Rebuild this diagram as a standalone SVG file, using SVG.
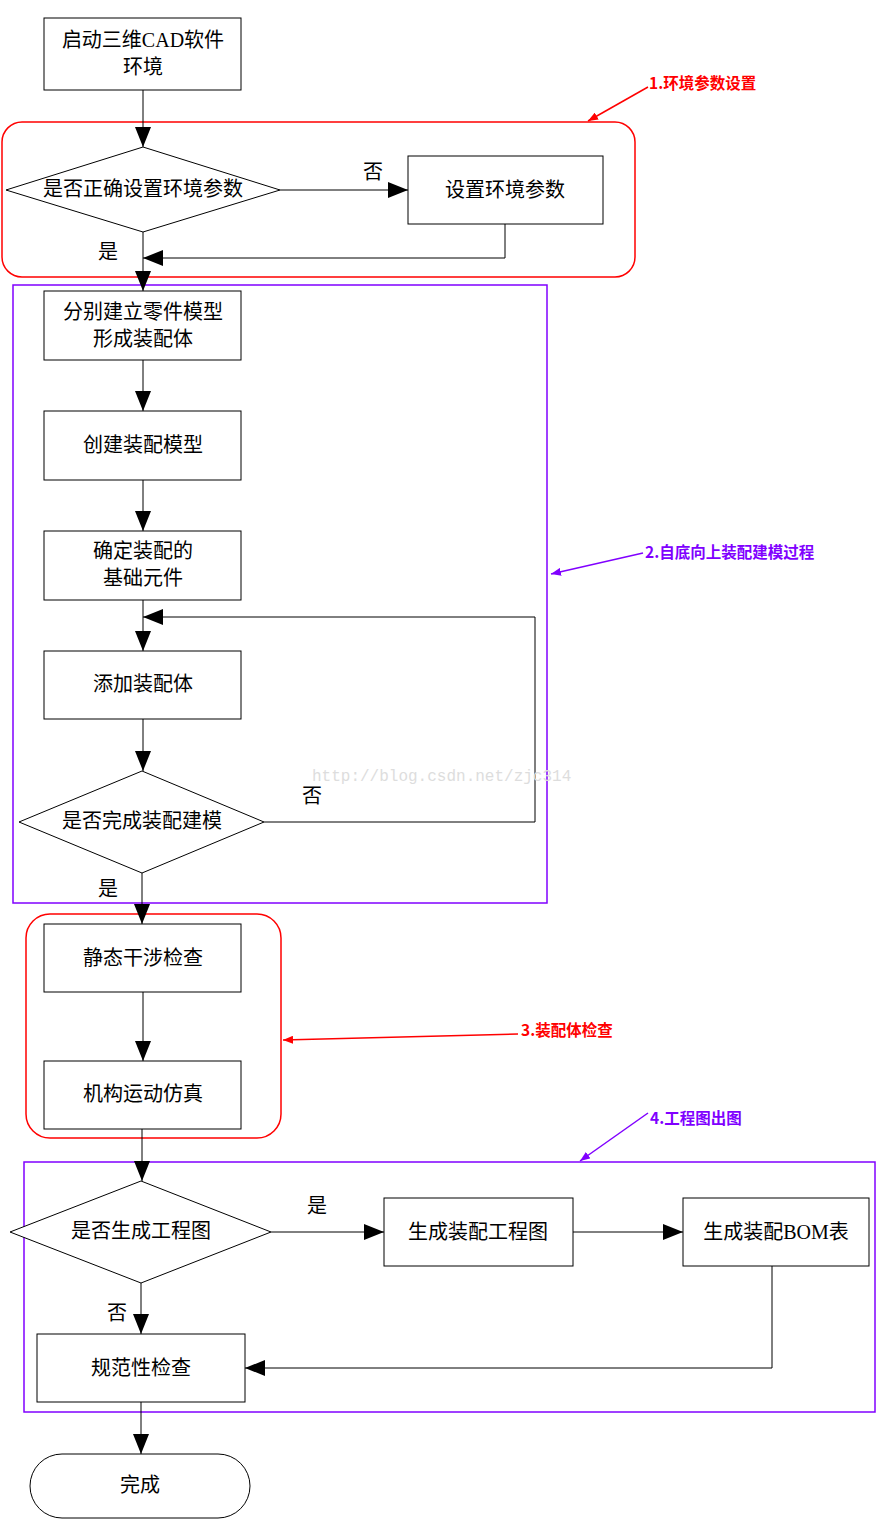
<svg xmlns="http://www.w3.org/2000/svg" width="878" height="1531" viewBox="0 0 878 1531">
<style>
.n{fill:#fff;stroke:#000;stroke-width:1}
.t{font-family:"Liberation Serif","Noto Sans CJK SC",serif;font-size:20px;fill:#000;text-anchor:middle}
.c{fill:none;stroke:#000;stroke-width:1}
.a{font-family:"Noto Sans CJK SC",sans-serif;font-size:15.5px;font-weight:bold}
.red{stroke:#f00;fill:none;stroke-width:1.5}
.pur{stroke:#8000ff;fill:none;stroke-width:1.5}
</style>
<defs>
<marker id="ah" viewBox="0 0 20 16" refX="20" refY="8" markerWidth="20" markerHeight="16" markerUnits="userSpaceOnUse" orient="auto"><path d="M0,0L20,8L0,16Z" fill="#000"/></marker>
<marker id="ar" viewBox="0 0 10 8" refX="10" refY="4" markerWidth="10" markerHeight="8" markerUnits="userSpaceOnUse" orient="auto"><path d="M0,0L10,4L0,8Z" fill="#f00"/></marker>
<marker id="ap" viewBox="0 0 10 8" refX="10" refY="4" markerWidth="10" markerHeight="8" markerUnits="userSpaceOnUse" orient="auto"><path d="M0,0L10,4L0,8Z" fill="#8000ff"/></marker>
</defs>
<rect width="878" height="1531" fill="#fff"/>
<g id="regions">
<rect class="red" x="2" y="122" width="633" height="155" rx="20"/>
<rect class="pur" x="13" y="285" width="534" height="618"/>
<rect class="red" x="26" y="914" width="255" height="224" rx="24"/>
<rect class="pur" x="24" y="1162" width="851" height="250"/>
</g>
<g id="connectors">
<path class="c" d="M143,90V147" marker-end="url(#ah)"/>
<path class="c" d="M280,190H408" marker-end="url(#ah)"/>
<path class="c" d="M505,224V258H143" marker-end="url(#ah)"/>
<path class="c" d="M143,232V291" marker-end="url(#ah)"/>
<path class="c" d="M143,360V411" marker-end="url(#ah)"/>
<path class="c" d="M143,480V531" marker-end="url(#ah)"/>
<path class="c" d="M143,600V651" marker-end="url(#ah)"/>
<path class="c" d="M143,719V771" marker-end="url(#ah)"/>
<path class="c" d="M264,822H535V617H143" marker-end="url(#ah)"/>
<path class="c" d="M142,873V924" marker-end="url(#ah)"/>
<path class="c" d="M143,992V1061" marker-end="url(#ah)"/>
<path class="c" d="M142,1129V1181" marker-end="url(#ah)"/>
<path class="c" d="M271,1232H384" marker-end="url(#ah)"/>
<path class="c" d="M573,1232H683" marker-end="url(#ah)"/>
<path class="c" d="M772,1266V1368H245" marker-end="url(#ah)"/>
<path class="c" d="M141,1283V1334" marker-end="url(#ah)"/>
<path class="c" d="M141,1402V1454" marker-end="url(#ah)"/>
<text class="t" x="373" y="179">否</text>
<text class="t" x="108" y="259">是</text>
<text class="t" x="312" y="803">否</text>
<text class="t" x="108" y="896">是</text>
<text class="t" x="317" y="1213">是</text>
<text class="t" x="117" y="1320">否</text>
</g>
<g id="n1"><rect class="n" x="44" y="18" width="197" height="72"/><text class="t" x="143" y="47">启动三维CAD软件</text><text class="t" x="143" y="74">环境</text></g>
<g id="d1"><path class="n" d="M6,190L143,147L280,190L143,232Z"/><text class="t" x="143" y="196">是否正确设置环境参数</text></g>
<g id="n2"><rect class="n" x="408" y="156" width="195" height="68"/><text class="t" x="505" y="197">设置环境参数</text></g>
<g id="n3"><rect class="n" x="44" y="291" width="197" height="69"/><text class="t" x="143" y="319">分别建立零件模型</text><text class="t" x="143" y="346">形成装配体</text></g>
<g id="n4"><rect class="n" x="44" y="411" width="197" height="69"/><text class="t" x="143" y="452">创建装配模型</text></g>
<g id="n5"><rect class="n" x="44" y="531" width="197" height="69"/><text class="t" x="143" y="558">确定装配的</text><text class="t" x="143" y="585">基础元件</text></g>
<g id="n6"><rect class="n" x="44" y="651" width="197" height="68"/><text class="t" x="143" y="691">添加装配体</text></g>
<g id="d2"><path class="n" d="M19,822L142,771L264,822L142,873Z"/><text class="t" x="142" y="828">是否完成装配建模</text></g>
<g id="n7"><rect class="n" x="44" y="924" width="197" height="68"/><text class="t" x="143" y="965">静态干涉检查</text></g>
<g id="n8"><rect class="n" x="44" y="1061" width="197" height="68"/><text class="t" x="143" y="1101">机构运动仿真</text></g>
<g id="d3"><path class="n" d="M10,1232L141,1181L271,1232L141,1283Z"/><text class="t" x="141" y="1238">是否生成工程图</text></g>
<g id="n9"><rect class="n" x="384" y="1198" width="189" height="68"/><text class="t" x="478" y="1239">生成装配工程图</text></g>
<g id="n10"><rect class="n" x="683" y="1198" width="186" height="68"/><text class="t" x="776" y="1239">生成装配BOM表</text></g>
<g id="n11"><rect class="n" x="37" y="1334" width="208" height="68"/><text class="t" x="141" y="1375">规范性检查</text></g>
<g id="n12"><rect class="n" x="30" y="1454" width="220" height="64" rx="32"/><text class="t" x="140" y="1492">完成</text></g>
<g id="annotations">
<path class="red" d="M648,87L588,121" marker-end="url(#ar)"/>
<text class="a" x="649" y="89" fill="#f00">1.环境参数设置</text>
<path class="pur" d="M643,553L551,574" marker-end="url(#ap)"/>
<text class="a" x="645" y="558" fill="#8000ff">2.自底向上装配建模过程</text>
<path class="red" d="M518,1034L283,1040" marker-end="url(#ar)"/>
<text class="a" x="521" y="1036" fill="#f00">3.装配体检查</text>
<path class="pur" d="M648,1113L580,1161" marker-end="url(#ap)"/>
<text class="a" x="650" y="1124" fill="#8000ff">4.工程图出图</text>
<text x="312" y="781" font-family="Liberation Mono,monospace" font-size="16" fill="#ddd">http://blog.csdn.net/zjc314</text>
</g>
</svg>
